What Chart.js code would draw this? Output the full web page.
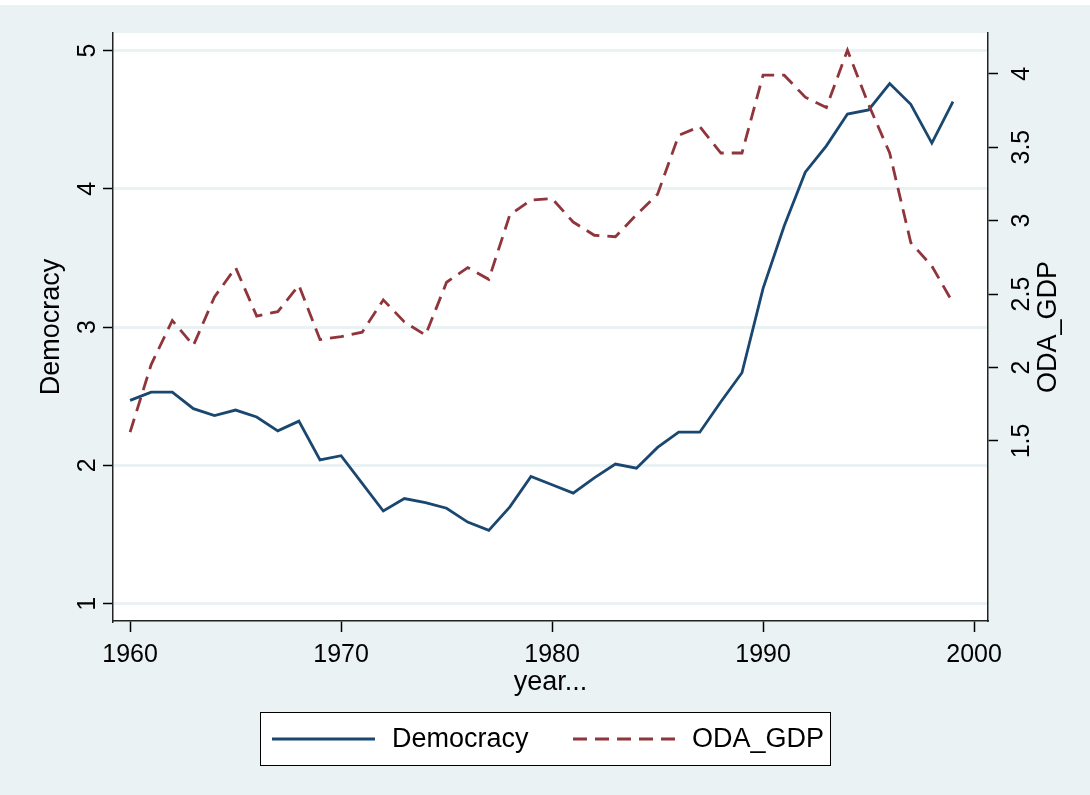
<!DOCTYPE html>
<html>
<head>
<meta charset="utf-8">
<script src="https://cdn.jsdelivr.net/npm/chart.js@4"></script>
<style>
  body { margin: 0; background: #eaf2f3; }
  canvas { display: block; }
</style>
</head>
<body>
<canvas id="chart" width="1090" height="795"></canvas>
<script>
// data
const years = [1960, 1961, 1962, 1963, 1964, 1965, 1966, 1967, 1968, 1969,
  1970, 1971, 1972, 1973, 1974, 1975, 1976, 1977, 1978, 1979,
  1980, 1981, 1982, 1983, 1984, 1985, 1986, 1987, 1988, 1989,
  1990, 1991, 1992, 1993, 1994, 1995, 1996, 1997, 1998, 1999];
const democracy = [2.47, 2.53, 2.53, 2.41, 2.36, 2.40, 2.35, 2.25, 2.32, 2.04,
  2.07, 1.87, 1.67, 1.76, 1.73, 1.69, 1.59, 1.53, 1.70, 1.92,
  1.86, 1.80, 1.91, 2.01, 1.98, 2.13, 2.24, 2.24, 2.46, 2.67,
  3.28, 3.73, 4.12, 4.31, 4.54, 4.57, 4.76, 4.61, 4.33, 4.63];
const odaGdp = [1.56, 2.02, 2.32, 2.15, 2.48, 2.68, 2.35, 2.38, 2.56, 2.19,
  2.21, 2.24, 2.46, 2.31, 2.22, 2.58, 2.68, 2.60, 3.04, 3.14,
  3.15, 2.99, 2.90, 2.89, 3.04, 3.18, 3.58, 3.64, 3.46, 3.46,
  3.99, 3.99, 3.84, 3.77, 4.16, 3.79, 3.46, 2.85, 2.69, 2.44];
const xTicks = [1960, 1970, 1980, 1990, 2000];
const leftTicks = [1, 2, 3, 4, 5];
const rightTicks = [1.5, 2, 2.5, 3, 3.5, 4];

const bg = '#eaf2f3';
const navy = '#1a476f';
const maroon = '#90353b';
const dash = [14, 8];
const font = '"Liberation Sans", Arial, sans-serif';

const chartLayout = {
  id: 'chartLayout',
  beforeDraw(chart) {
    const { ctx, chartArea: a } = chart;
    ctx.save();
    ctx.fillStyle = bg;
    ctx.fillRect(0, 0, chart.width, chart.height);
    ctx.fillStyle = '#fff';
    ctx.fillRect(0, 0, chart.width, 5);
    ctx.fillRect(a.left, a.top, a.right - a.left, a.bottom - a.top);
    ctx.restore();
  },
  afterDraw(chart) {
    const { ctx, chartArea: a, scales } = chart;
    ctx.save();
    ctx.fillStyle = '#000';
    ctx.textAlign = 'center';
    ctx.textBaseline = 'middle';

    // x axis labels
    ctx.font = '25px ' + font;
    xTicks.forEach(v => ctx.fillText(String(v), scales.x.getPixelForValue(v), 655));
    ctx.font = '27px ' + font;
    ctx.fillText('year...', (a.left + a.right) / 2, 683);

    // rotated y labels
    const vText = (txt, x, y) => {
      ctx.save();
      ctx.translate(x, y);
      ctx.rotate(-Math.PI / 2);
      ctx.fillText(txt, 0, 0);
      ctx.restore();
    };
    ctx.font = '25px ' + font;
    leftTicks.forEach(v => vText(String(v), 88, scales.y.getPixelForValue(v)));
    rightTicks.forEach(v => vText(String(v), 1022, scales.y2.getPixelForValue(v)));
    ctx.font = '27px ' + font;
    vText('Democracy', 52, (a.top + a.bottom) / 2);
    vText('ODA_GDP', 1049, (a.top + a.bottom) / 2);

    // legend
    ctx.fillStyle = '#fff';
    ctx.fillRect(260, 712, 570, 53);
    ctx.strokeStyle = '#000';
    ctx.lineWidth = 1;
    ctx.strokeRect(260.5, 712.5, 570, 53);
    ctx.lineWidth = 2.8;
    ctx.strokeStyle = navy;
    ctx.beginPath();
    ctx.moveTo(272, 739);
    ctx.lineTo(375, 739);
    ctx.stroke();
    ctx.strokeStyle = maroon;
    ctx.setLineDash(dash);
    ctx.beginPath();
    ctx.moveTo(573, 739);
    ctx.lineTo(676, 739);
    ctx.stroke();
    ctx.setLineDash([]);
    ctx.fillStyle = '#000';
    ctx.textAlign = 'left';
    ctx.font = '27px ' + font;
    ctx.fillText('Democracy', 392, 740);
    ctx.fillText('ODA_GDP', 692, 740);
    ctx.restore();
  }
};

const ctx = document.getElementById('chart').getContext('2d');
new Chart(ctx, {
  type: 'line',
  data: {
    datasets: [{
      label: 'Democracy',
      data: years.map((yr, i) => ({ x: yr, y: democracy[i] })),
      yAxisID: 'y',
      borderColor: navy,
      borderWidth: 2.8,
      pointRadius: 0,
      order: 1
    }, {
      label: 'ODA_GDP',
      data: years.map((yr, i) => ({ x: yr, y: odaGdp[i] })),
      yAxisID: 'y2',
      borderColor: maroon,
      borderWidth: 2.8,
      borderDash: dash,
      pointRadius: 0,
      order: 0
    }]
  },
  options: {
    responsive: false,
    devicePixelRatio: 1,
    animation: false,
    layout: { padding: { top: 33, left: 0, right: 0, bottom: 0 } },
    plugins: { legend: { display: false }, tooltip: { enabled: false } },
    scales: {
      x: {
        type: 'linear',
        min: 1959.19,
        max: 2000.66,
        afterBuildTicks: s => { s.ticks = xTicks.map(v => ({ value: v })); },
        afterFit: s => { s.height = 174; },
        ticks: { display: false },
        grid: { drawOnChartArea: false, tickColor: '#000', tickLength: 11, tickWidth: 1.5 },
        border: { color: '#222', width: 1.5 }
      },
      y: {
        position: 'left',
        min: 0.875,
        max: 5.126,
        afterBuildTicks: s => { s.ticks = leftTicks.map(v => ({ value: v })); },
        afterFit: s => { s.width = 113; },
        ticks: { display: false },
        grid: { color: bg, lineWidth: 3, tickColor: '#000', tickLength: 10, tickWidth: 1.5 },
        border: { color: '#222', width: 1.5 }
      },
      y2: {
        position: 'right',
        min: 0.274,
        max: 4.277,
        afterBuildTicks: s => { s.ticks = rightTicks.map(v => ({ value: v })); },
        afterFit: s => { s.width = 102; },
        ticks: { display: false },
        grid: { drawOnChartArea: false, tickColor: '#000', tickLength: 10, tickWidth: 1.5 },
        border: { color: '#222', width: 1.5 }
      }
    }
  },
  plugins: [chartLayout]
});
</script>
</body>
</html>
